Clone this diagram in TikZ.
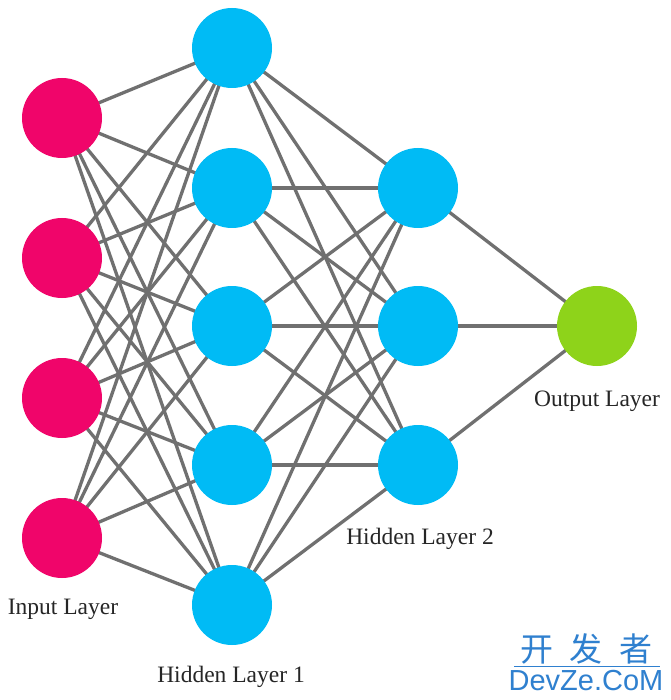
\documentclass[tikz,border=0pt]{standalone}
\usepackage{fontspec}
\setmainfont{Liberation Serif}
\newfontfamily\cjk{Noto Sans CJK SC}
\newfontfamily\wmfont{Liberation Sans}
\pgfdeclarelayer{background}
\pgfsetlayers{background,main}
\begin{document}
\begin{tikzpicture}[x=1pt,y=-1pt,
  neuron/.style={circle,minimum size=80pt,inner sep=0pt},
  inp/.style={neuron,fill=inpcol},
  hid/.style={neuron,fill=hidcol},
  outp/.style={neuron,fill=outcol},
  conn/.style={draw=linecol,line width=3.3pt},
  lbl/.style={font=\fontsize{23.5}{25}\selectfont,text=black!85,inner sep=0pt},
  wm/.style={text=wmcol,inner sep=0pt}]
\definecolor{inpcol}{HTML}{F0056A}
\definecolor{hidcol}{HTML}{00BBF5}
\definecolor{outcol}{HTML}{8ED31A}
\definecolor{linecol}{HTML}{707070}
\definecolor{wmcol}{HTML}{2F80CF}
\begin{pgfonlayer}{background}
\useasboundingbox[fill=white] (0,0) rectangle (670,700);
\end{pgfonlayer}
% nodes
\foreach \y [count=\i] in {118,258,398,538} \node[inp] (i\i) at (62,\y) {};
\foreach \y [count=\i] in {48,188,326,465,605} \node[hid] (h\i) at (232,\y) {};
\foreach \y [count=\i] in {188,326,465} \node[hid] (k\i) at (418,\y) {};
\node[outp] (o) at (597,326) {};
% connectors behind the nodes
\begin{pgfonlayer}{background}
\foreach \a in {1,...,4} \foreach \b in {1,...,5} \draw[conn] (i\a.center) -- (h\b.center);
\foreach \a in {1,...,5} \foreach \b in {1,...,3} \draw[conn] (h\a.center) -- (k\b.center);
\foreach \a in {1,...,3} \draw[conn] (k\a.center) -- (o.center);
\end{pgfonlayer}
% labels
\node[lbl] (li) at (63,609) {Input Layer};
\node[lbl] (lh1) at (231,677) {Hidden Layer 1};
\node[lbl] (lh2) at (420,539) {Hidden Layer 2};
\node[lbl] (lo) at (597,401) {Output Layer};
% watermark
\node[wm,font=\cjk\fontsize{33}{34}\selectfont] (w1) at (586,649) {开\hspace{0.5em}发\hspace{0.5em}者};
\coordinate (wl) at (514,666);
\coordinate (wr) at (660,666);
\draw[wmcol,line width=1pt] (wl) -- (wr);
\node[wm,font=\wmfont\fontsize{29}{30}\selectfont] (w2) at (586,681) {DevZe.CoM};
\end{tikzpicture}
\end{document}
